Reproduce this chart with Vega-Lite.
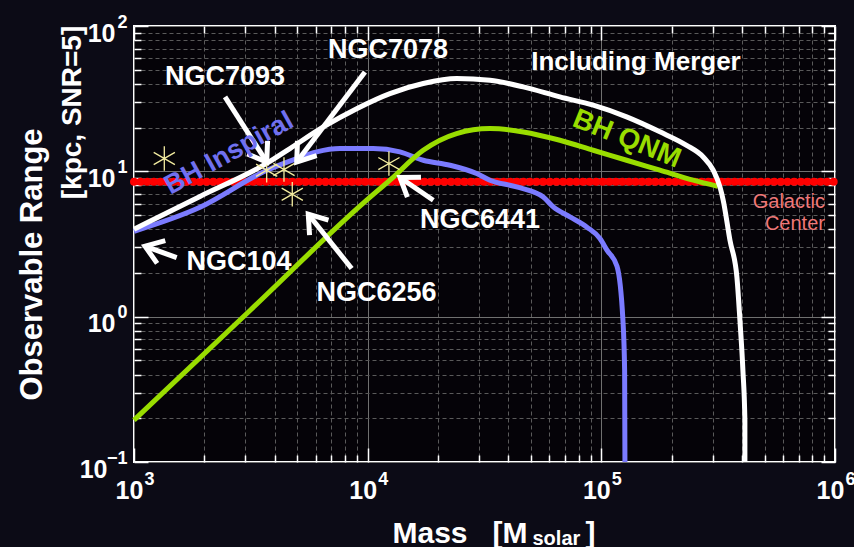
{
  "$schema": "https://vega.github.io/schema/vega-lite/v6.json",
  "width": 701,
  "height": 436,
  "autosize": {"type": "none"},
  "padding": {"left": 134, "top": 26, "right": 19, "bottom": 85},
  "background": "#0c0b16",
  "config": {
    "view": {"fill": "#050308", "stroke": "#ffffff", "strokeWidth": 2},
    "axis": {
      "domain": false,
      "labelColor": "#ffffff",
      "labelFont": "Liberation Sans",
      "labelFontSize": 25,
      "labelFontWeight": "bold",
      "tickColor": "#ffffff",
      "tickWidth": 1.5,
      "titleColor": "#ffffff",
      "titleFont": "Liberation Sans",
      "titleFontWeight": "bold",
      "labelFlush": false,
      "labelOverlap": false,
      "labelBound": false,
      "grid": false
    }
  },
  "datasets": {
    "galactic": [{"M": 1000, "R": 8.48}, {"M": 1000000, "R": 8.48}],
    "merger": [
      {"M": 1000, "R": 4.0}, {"M": 1916, "R": 6.72}, {"M": 3708, "R": 11.37}, {"M": 4651, "R": 14.35},
      {"M": 6457, "R": 20.2}, {"M": 8973, "R": 27.0}, {"M": 12454, "R": 34.3}, {"M": 17290, "R": 40.2},
      {"M": 24030, "R": 43.5}, {"M": 33370, "R": 42.3}, {"M": 46330, "R": 38.1}, {"M": 66490, "R": 32.5},
      {"M": 92350, "R": 28.5}, {"M": 128300, "R": 23.7}, {"M": 178100, "R": 18.7}, {"M": 231700, "R": 15.1},
      {"M": 272900, "R": 12.56}, {"M": 301200, "R": 10.18}, {"M": 321800, "R": 7.81}, {"M": 332300, "R": 6.33},
      {"M": 355100, "R": 3.36}, {"M": 380400, "R": 1.87}, {"M": 391800, "R": 0.946}, {"M": 403500, "R": 0.429},
      {"M": 411500, "R": 0.194}, {"M": 411600, "R": 0.1}
    ],
    "inspiral": [
      {"M": 1000, "R": 3.87}, {"M": 1916, "R": 5.66}, {"M": 3708, "R": 10.18}, {"M": 4969, "R": 12.25},
      {"M": 6050, "R": 13.6}, {"M": 7611, "R": 14.35}, {"M": 10570, "R": 14.35}, {"M": 13750, "R": 13.6},
      {"M": 17290, "R": 11.92}, {"M": 22500, "R": 11.02}, {"M": 29270, "R": 9.66}, {"M": 33370, "R": 8.69},
      {"M": 43400, "R": 7.81}, {"M": 56400, "R": 6.67}, {"M": 62260, "R": 5.69}, {"M": 73370, "R": 4.86},
      {"M": 86780, "R": 4.13}, {"M": 98630, "R": 3.45}, {"M": 105700, "R": 2.87}, {"M": 116700, "R": 2.22},
      {"M": 123700, "R": 0.946}, {"M": 125800, "R": 0.429}, {"M": 126200, "R": 0.1}
    ],
    "qnm": [
      {"M": 1000, "R": 0.194}, {"M": 3136, "R": 1.103}, {"M": 9901, "R": 6.33}, {"M": 12454, "R": 8.69},
      {"M": 17290, "R": 13.97}, {"M": 24030, "R": 18.2}, {"M": 33370, "R": 19.7}, {"M": 46330, "R": 18.67},
      {"M": 66490, "R": 16.36}, {"M": 92350, "R": 13.97}, {"M": 128300, "R": 11.92}, {"M": 178100, "R": 10.18},
      {"M": 247300, "R": 8.69}, {"M": 315400, "R": 7.88}
    ],
    "clusters": [
      {"M": 1348, "R": 12.25}, {"M": 3697, "R": 10.18}, {"M": 4384, "R": 10.29},
      {"M": 4757, "R": 6.96}, {"M": 12330, "R": 11.31}
    ],
    "arrows": [
      {"seg": "a1s", "o": 0, "M": 2452, "R": 32.49}, {"seg": "a1s", "o": 1, "M": 3697, "R": 11.6},
      {"seg": "a1h", "o": 0, "M": 3730, "R": 16.19}, {"seg": "a1h", "o": 1, "M": 3697, "R": 11.6}, {"seg": "a1h", "o": 2, "M": 3053, "R": 13.17},
      {"seg": "a2s", "o": 0, "M": 9737, "R": 48.27}, {"seg": "a2s", "o": 1, "M": 4969, "R": 11.6},
      {"seg": "a2h", "o": 0, "M": 6050, "R": 12.84}, {"seg": "a2h", "o": 1, "M": 4969, "R": 11.6}, {"seg": "a2h", "o": 2, "M": 5008, "R": 16.19},
      {"seg": "a3s", "o": 0, "M": 1523, "R": 2.545}, {"seg": "a3s", "o": 1, "M": 1115, "R": 3.054},
      {"seg": "a3h", "o": 0, "M": 1256, "R": 2.326}, {"seg": "a3h", "o": 1, "M": 1115, "R": 3.054}, {"seg": "a3h", "o": 2, "M": 1361, "R": 3.332},
      {"seg": "a4s", "o": 0, "M": 8541, "R": 2.145}, {"seg": "a4s", "o": 1, "M": 5569, "R": 5.07},
      {"seg": "a4h", "o": 0, "M": 5640, "R": 3.635}, {"seg": "a4h", "o": 1, "M": 5569, "R": 5.07}, {"seg": "a4h", "o": 2, "M": 6796, "R": 4.617},
      {"seg": "a5s", "o": 0, "M": 19090, "R": 6.33}, {"seg": "a5s", "o": 1, "M": 13750, "R": 9.07},
      {"seg": "a5h", "o": 0, "M": 14790, "R": 6.65}, {"seg": "a5h", "o": 1, "M": 13750, "R": 9.07}, {"seg": "a5h", "o": 2, "M": 16910, "R": 9.11}
    ],
    "ngc": [
      {"t": "NGC7093", "M": 2452, "R": 44.6}, {"t": "NGC7078", "M": 12220, "R": 68.1},
      {"t": "NGC104", "M": 2814, "R": 2.371}, {"t": "NGC6256", "M": 10910, "R": 1.451},
      {"t": "NGC6441", "M": 30240, "R": 4.61}
    ],
    "mergerLabel": [{"t": "Including Merger", "M": 140700, "R": 56.3}],
    "qnmLabel": [{"t": "BH QNM", "M": 128300, "R": 16.63}],
    "inspiralLabel": [{"t": "BH Inspiral", "M": 2550, "R": 13.26}],
    "gcLabel": [{"t": "Galactic\nCenter", "M": 905700, "R": 5.6}]
  },
  "layer": [
    {
      "data": {"name": "galactic"},
      "mark": {"type": "line", "color": "#ff0000", "strokeWidth": 8, "strokeDash": [0.1, 6.5], "strokeCap": "round"},
      "encoding": {
        "x": {
          "field": "M", "type": "quantitative",
          "scale": {"type": "log", "domain": [1000, 1000000], "nice": false},
          "axis": {
            "orient": "bottom", "values": [1000, 10000, 100000, 1000000],
            "labelExpr": "'10'", "labelOffset": -5,
            "tickSize": -14, "labelPadding": 30, "labelBaseline": "top",
            "grid": true, "gridColor": "#707070", "gridWidth": 1,
            "title": "Mass\u00a0\u00a0\u00a0[M", "titleFontSize": 30, "titleX": 258, "titleY": 80,
            "titleAlign": "left", "titleBaseline": "alphabetic", "titleAngle": 0
          }
        },
        "y": {
          "field": "R", "type": "quantitative",
          "scale": {"type": "log", "domain": [0.1, 100], "nice": false},
          "axis": {
            "orient": "left", "values": [0.1, 1, 10, 100],
            "labelExpr": "'10'",
            "tickSize": -14,
            "labelPadding": {"condition": {"test": "datum.value < 0.5", "value": 41}, "value": 33},
            "labelAlign": "right", "labelBaseline": "middle", "labelOffset": 7,
            "grid": true, "gridColor": "#707070", "gridWidth": 1,
            "title": "[kpc, SNR=5]", "titleFontSize": 28, "titleX": -54, "titleY": 86,
            "titleAlign": "center", "titleBaseline": "alphabetic", "titleAngle": 270
          }
        }
      }
    },
    {
      "data": {"name": "inspiral"},
      "mark": {"type": "line", "color": "#7b7bff", "strokeWidth": 5, "interpolate": "monotone"},
      "encoding": {
        "x": {
          "field": "M", "type": "quantitative",
          "scale": {"type": "log", "domain": [1000, 1000000], "nice": false},
          "axis": {
            "orient": "bottom",
            "values": [2000, 3000, 4000, 5000, 6000, 7000, 8000, 9000, 20000, 30000, 40000, 50000, 60000, 70000, 80000, 90000, 200000, 300000, 400000, 500000, 600000, 700000, 800000, 900000],
            "labels": false, "tickSize": -7, "grid": true, "gridColor": "#5a5a5a", "gridDash": [4, 3], "gridWidth": 1, "title": null
          }
        },
        "y": {
          "field": "R", "type": "quantitative",
          "scale": {"type": "log", "domain": [0.1, 100], "nice": false},
          "axis": {
            "orient": "left",
            "values": [0.2, 0.3, 0.4, 0.5, 0.6, 0.7, 0.8, 0.9, 2, 3, 4, 5, 6, 7, 8, 9, 20, 30, 40, 50, 60, 70, 80, 90],
            "labels": false, "tickSize": -7, "grid": true, "gridColor": "#5a5a5a", "gridDash": [4, 3], "gridWidth": 1, "title": null
          }
        }
      }
    },
    {
      "data": {"name": "qnm"},
      "mark": {"type": "line", "color": "#99dd00", "strokeWidth": 5, "interpolate": "monotone"},
      "encoding": {
        "x": {
          "field": "M", "type": "quantitative",
          "scale": {"type": "log", "domain": [1000, 1000000], "nice": false},
          "axis": {"orient": "top", "values": [1000, 10000, 100000, 1000000], "labels": false, "tickSize": -14, "title": null}
        },
        "y": {
          "field": "R", "type": "quantitative",
          "scale": {"type": "log", "domain": [0.1, 100], "nice": false},
          "axis": {"orient": "right", "values": [0.1, 1, 10, 100], "labels": false, "tickSize": -14, "title": null}
        }
      }
    },
    {
      "data": {"name": "merger"},
      "mark": {"type": "line", "color": "#ffffff", "strokeWidth": 5, "interpolate": "monotone"},
      "encoding": {
        "x": {
          "field": "M", "type": "quantitative",
          "scale": {"type": "log", "domain": [1000, 1000000], "nice": false},
          "axis": {
            "orient": "top",
            "values": [2000, 3000, 4000, 5000, 6000, 7000, 8000, 9000, 20000, 30000, 40000, 50000, 60000, 70000, 80000, 90000, 200000, 300000, 400000, 500000, 600000, 700000, 800000, 900000],
            "labels": false, "tickSize": -7, "title": null
          }
        },
        "y": {
          "field": "R", "type": "quantitative",
          "scale": {"type": "log", "domain": [0.1, 100], "nice": false},
          "axis": {
            "orient": "right",
            "values": [0.2, 0.3, 0.4, 0.5, 0.6, 0.7, 0.8, 0.9, 2, 3, 4, 5, 6, 7, 8, 9, 20, 30, 40, 50, 60, 70, 80, 90],
            "labels": false, "tickSize": -7, "title": null
          }
        }
      }
    },
    {
      "data": {"name": "clusters"},
      "mark": {"type": "point", "shape": "M0,-1L0,1M-0.866,-0.5L0.866,0.5M-0.866,0.5L0.866,-0.5", "filled": false, "stroke": "#f3eca0", "strokeWidth": 1.3, "size": 600, "opacity": 1},
      "encoding": {
        "x": {
          "field": "M", "type": "quantitative",
          "scale": {"type": "log", "domain": [1000, 1000000], "nice": false},
          "axis": {"orient": "bottom", "values": [], "labels": false, "ticks": false, "title": "solar", "titleFontSize": 20, "titleX": 398, "titleY": 82, "titleAlign": "left", "titleBaseline": "alphabetic", "titleAngle": 0}
        },
        "y": {
          "field": "R", "type": "quantitative",
          "scale": {"type": "log", "domain": [0.1, 100], "nice": false},
          "axis": {"orient": "left", "values": [], "labels": false, "ticks": false, "title": "Observable Range", "titleFontSize": 31, "titleX": -93, "titleY": 238, "titleAlign": "center", "titleBaseline": "alphabetic", "titleAngle": 270}
        }
      }
    },
    {
      "data": {"name": "arrows"},
      "mark": {"type": "line", "color": "#ffffff", "strokeWidth": 5, "strokeCap": "butt", "strokeJoin": "miter"},
      "encoding": {
        "x": {
          "field": "M", "type": "quantitative",
          "scale": {"type": "log", "domain": [1000, 1000000], "nice": false},
          "axis": {"orient": "bottom", "values": [], "labels": false, "ticks": false, "title": "]", "titleFontSize": 30, "titleX": 451, "titleY": 80, "titleAlign": "left", "titleBaseline": "alphabetic", "titleAngle": 0}
        },
        "y": {"field": "R", "type": "quantitative", "scale": {"type": "log", "domain": [0.1, 100], "nice": false}, "axis": null},
        "detail": {"field": "seg"},
        "order": {"field": "o"}
      }
    },
    {
      "data": {"name": "ngc"},
      "mark": {"type": "text", "font": "Liberation Sans", "fontWeight": "bold", "fontSize": 27, "color": "#ffffff", "align": "center", "baseline": "middle"},
      "encoding": {
        "x": {
          "field": "M", "type": "quantitative",
          "scale": {"type": "log", "domain": [1000, 1000000], "nice": false},
          "axis": {
            "orient": "bottom", "values": [1000, 10000, 100000, 1000000],
            "labelExpr": "['−1','0','1','2','3','4','5','6'][round(log(datum.value)/LN10)+1]",
            "ticks": false, "labelFontSize": 18, "labelPadding": 8, "labelOffset": 15, "labelBaseline": "top", "title": null
          }
        },
        "y": {
          "field": "R", "type": "quantitative",
          "scale": {"type": "log", "domain": [0.1, 100], "nice": false},
          "axis": {
            "orient": "left", "values": [0.1, 1, 10, 100],
            "labelExpr": "['−1','0','1','2','3','4','5','6'][round(log(datum.value)/LN10)+1]",
            "ticks": false, "labelFontSize": 18, "labelPadding": 7, "labelAlign": "right", "labelBaseline": "middle", "labelOffset": -4, "title": null
          }
        },
        "text": {"field": "t"}
      }
    },
    {
      "data": {"name": "mergerLabel"},
      "mark": {"type": "text", "font": "Liberation Sans", "fontWeight": "bold", "fontSize": 26, "color": "#ffffff", "align": "center", "baseline": "middle"},
      "encoding": {
        "x": {"field": "M", "type": "quantitative", "scale": {"type": "log", "domain": [1000, 1000000], "nice": false}, "axis": null},
        "y": {"field": "R", "type": "quantitative", "scale": {"type": "log", "domain": [0.1, 100], "nice": false}, "axis": null},
        "text": {"field": "t"}
      }
    },
    {
      "data": {"name": "qnmLabel"},
      "mark": {"type": "text", "font": "Liberation Sans", "fontWeight": "bold", "fontSize": 28, "color": "#99dd00", "align": "center", "baseline": "middle", "angle": 22},
      "encoding": {
        "x": {"field": "M", "type": "quantitative", "scale": {"type": "log", "domain": [1000, 1000000], "nice": false}, "axis": null},
        "y": {"field": "R", "type": "quantitative", "scale": {"type": "log", "domain": [0.1, 100], "nice": false}, "axis": null},
        "text": {"field": "t"}
      }
    },
    {
      "data": {"name": "inspiralLabel"},
      "mark": {"type": "text", "font": "Liberation Sans", "fontWeight": "bold", "fontSize": 27, "color": "#7070f0", "align": "center", "baseline": "middle", "angle": 331},
      "encoding": {
        "x": {"field": "M", "type": "quantitative", "scale": {"type": "log", "domain": [1000, 1000000], "nice": false}, "axis": null},
        "y": {"field": "R", "type": "quantitative", "scale": {"type": "log", "domain": [0.1, 100], "nice": false}, "axis": null},
        "text": {"field": "t"}
      }
    },
    {
      "data": {"name": "gcLabel"},
      "mark": {"type": "text", "font": "Liberation Sans", "fontSize": 20, "color": "#f07878", "align": "right", "baseline": "alphabetic", "lineBreak": "\n", "lineHeight": 22},
      "encoding": {
        "x": {"field": "M", "type": "quantitative", "scale": {"type": "log", "domain": [1000, 1000000], "nice": false}, "axis": null},
        "y": {"field": "R", "type": "quantitative", "scale": {"type": "log", "domain": [0.1, 100], "nice": false}, "axis": null},
        "text": {"field": "t"}
      }
    }
  ],
  "resolve": {"axis": {"x": "independent", "y": "independent"}}
}
